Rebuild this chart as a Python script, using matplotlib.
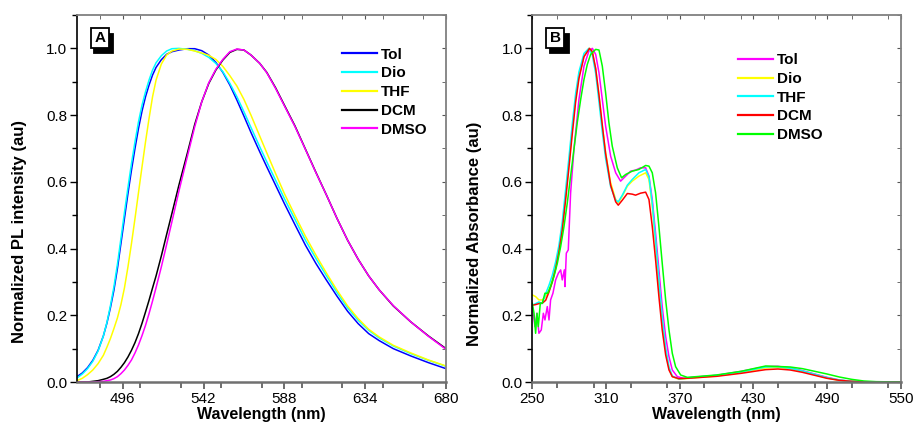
import matplotlib
matplotlib.use("Agg")
import matplotlib.pyplot as plt
from matplotlib.ticker import MultipleLocator, FixedLocator
from matplotlib import transforms
from matplotlib.patches import Rectangle

plt.rcParams['font.family'] = ['Liberation Sans', 'DejaVu Sans']

# ---------------- Panel A: PL spectra ----------------
wl_a = [470, 473, 476, 479, 482, 485, 487, 489, 491, 493,
        495, 497, 499, 501, 503, 505, 507, 509, 511, 513,
        515, 518, 521, 524, 528, 533, 537, 541, 545, 549,
        553, 557, 561, 565, 569, 574, 578, 583, 588, 594,
        600, 606, 612, 618, 624, 630, 636, 642, 650, 660,
        670, 680]
pl_tol = [0.016, 0.027, 0.043, 0.065, 0.095, 0.138, 0.176, 0.222, 0.275, 0.34,
          0.415, 0.49, 0.565, 0.635, 0.70, 0.76, 0.812, 0.855, 0.89, 0.92,
          0.943, 0.966, 0.982, 0.99, 0.995, 0.999, 0.999, 0.993, 0.98, 0.958,
          0.928, 0.89, 0.845, 0.797, 0.748, 0.69, 0.645, 0.59, 0.535, 0.472,
          0.41, 0.355, 0.305, 0.257, 0.212, 0.175, 0.145, 0.124, 0.1, 0.078,
          0.058, 0.04]
pl_dio = [0.012, 0.024, 0.04, 0.062, 0.093, 0.138, 0.178, 0.228, 0.285, 0.353,
          0.43, 0.508, 0.583, 0.655, 0.72, 0.78, 0.83, 0.87, 0.905, 0.935,
          0.957, 0.978, 0.992, 0.999, 1.0, 0.997, 0.993, 0.985, 0.973, 0.955,
          0.93, 0.895, 0.855, 0.81, 0.763, 0.705, 0.66, 0.605, 0.55, 0.488,
          0.425, 0.37, 0.318, 0.268, 0.222, 0.185, 0.155, 0.132, 0.108, 0.085,
          0.065, 0.047]
pl_thf = [0.004, 0.011, 0.022, 0.036, 0.055, 0.08, 0.104, 0.13, 0.16, 0.192,
          0.232, 0.282, 0.345, 0.415, 0.49, 0.568, 0.645, 0.72, 0.79, 0.855,
          0.905, 0.953, 0.98, 0.992, 0.998, 0.997, 0.992, 0.986, 0.979, 0.967,
          0.946, 0.918, 0.887, 0.847, 0.80, 0.737, 0.687, 0.625, 0.565, 0.50,
          0.437, 0.38, 0.326, 0.275, 0.228, 0.19, 0.158, 0.135, 0.11, 0.087,
          0.066, 0.048]
pl_dcm = [0.0, 0.0, 0.0, 0.002, 0.004, 0.008, 0.011, 0.016, 0.023, 0.032,
          0.044, 0.058, 0.075, 0.095, 0.118, 0.145, 0.176, 0.21, 0.245, 0.282,
          0.318, 0.378, 0.442, 0.505, 0.59, 0.69, 0.772, 0.84, 0.895, 0.935,
          0.965, 0.988, 0.997, 0.995, 0.98, 0.955, 0.928, 0.882, 0.83, 0.768,
          0.698, 0.628, 0.56, 0.49, 0.425, 0.368, 0.318, 0.276, 0.228, 0.18,
          0.138, 0.1]
pl_dmso = [0.0, 0.0, 0.0, 0.0, 0.001, 0.002, 0.004, 0.006, 0.01, 0.016,
           0.025, 0.036, 0.05, 0.066, 0.087, 0.111, 0.139, 0.17, 0.205, 0.243,
           0.283, 0.345, 0.412, 0.48, 0.572, 0.68, 0.765, 0.84, 0.897, 0.937,
           0.967, 0.99, 0.998, 0.995, 0.98, 0.955, 0.927, 0.88, 0.828, 0.766,
           0.697, 0.627, 0.56, 0.49, 0.425, 0.368, 0.318, 0.276, 0.229, 0.18,
           0.137, 0.098]

labels_a = ['Tol', 'Dio', 'THF', 'DCM', 'DMSO']
colors_a = ['#0000FF', '#00FFFF', '#FFFF00', '#000000', '#FF00FF']

# ---------------- Panel B: absorption spectra ----------------
wl_b_tol = [250, 252.2, 253.8, 255.4, 257.3, 259, 260.3, 262.2, 263.6, 264.9,
            266.8, 269, 271.2, 273.1, 274.4, 276.1, 276.6, 277.7, 279.3, 281.2,
            283.9, 288, 292.1, 296.1, 298.9, 301.6, 304.3, 307, 309.7, 313.8,
            317.9, 321.9, 326, 330.1, 334.1, 338.2, 342.3, 345, 347.7, 350.4,
            353.1, 355.8, 358.6, 361.3, 364, 368.1, 373.5, 380, 400, 420,
            440, 450, 460, 470, 480, 490, 500, 510, 520, 550]
ab_tol = [0.226, 0.166, 0.206, 0.146, 0.156, 0.206, 0.186, 0.226, 0.186, 0.246,
          0.266, 0.306, 0.326, 0.336, 0.306, 0.336, 0.286, 0.386, 0.396, 0.567,
          0.697, 0.847, 0.947, 0.992, 1.0, 0.982, 0.927, 0.847, 0.767, 0.677,
          0.627, 0.602, 0.617, 0.632, 0.635, 0.642, 0.642, 0.617, 0.547, 0.446,
          0.336, 0.226, 0.136, 0.076, 0.036, 0.016, 0.011, 0.014, 0.02, 0.032,
          0.046, 0.047, 0.042, 0.034, 0.024, 0.014, 0.006, 0.002, 0.0005, 0.0]

wl_b_mid = [250, 252.7, 255.4, 258.1, 260.9, 263.6, 266.3, 269, 271.7, 274.4,
            277.1, 279.9, 282.6, 285.3, 288, 292.1, 296.1, 298.9, 301.6, 304.3,
            307, 309.7, 313.8, 317.9, 320, 323.3, 327.4, 331.4, 336.8, 342.3,
            345, 347.7, 350.4, 353.1, 355.8, 358.6, 361.3, 364, 369.4, 380,
            400, 420, 440, 450, 460, 470, 480, 490, 500, 510, 520, 550]
ab_dio = [0.261, 0.256, 0.246, 0.246, 0.256, 0.276, 0.306, 0.346, 0.396, 0.466,
          0.557, 0.657, 0.757, 0.847, 0.917, 0.977, 1.0, 0.987, 0.937, 0.857,
          0.767, 0.687, 0.597, 0.547, 0.537, 0.557, 0.587, 0.602, 0.617, 0.627,
          0.607, 0.527, 0.416, 0.296, 0.186, 0.096, 0.041, 0.016, 0.008, 0.012,
          0.018, 0.028, 0.042, 0.044, 0.04, 0.032, 0.022, 0.012, 0.005, 0.002,
          0.0005, 0.0]
ab_thf = [0.23, 0.235, 0.24, 0.235, 0.265, 0.29, 0.32, 0.36, 0.41, 0.48,
          0.575, 0.675, 0.775, 0.865, 0.93, 0.985, 1.0, 0.98, 0.925, 0.84,
          0.75, 0.67, 0.585, 0.545, 0.54, 0.56, 0.59, 0.607, 0.627, 0.637,
          0.615, 0.535, 0.425, 0.305, 0.195, 0.102, 0.045, 0.018, 0.009, 0.013,
          0.02, 0.03, 0.045, 0.046, 0.041, 0.033, 0.023, 0.013, 0.006, 0.002,
          0.0005, 0.0]

wl_b_dcm = [250, 252.7, 255.4, 258.1, 260.9, 263.6, 266.3, 269, 271.7, 274.4,
            277.1, 279.9, 282.6, 285.3, 288, 292.1, 296.6, 298.9, 301.6, 304.3,
            307, 309.7, 313.8, 317.9, 320, 323.3, 327.4, 331.4, 334.1, 338.2,
            342.3, 345, 347.7, 350.4, 353.1, 355.8, 358.6, 361.3, 364, 369.4,
            380, 400, 420, 440, 450, 460, 470, 480, 490, 500, 510, 520, 550]
ab_dcm = [0.23, 0.232, 0.235, 0.236, 0.245, 0.27, 0.3, 0.34, 0.39, 0.455,
          0.545, 0.645, 0.745, 0.84, 0.91, 0.975, 1.0, 0.99, 0.94, 0.86,
          0.77, 0.685, 0.59, 0.54, 0.53, 0.545, 0.565, 0.563, 0.56, 0.566,
          0.569, 0.547, 0.466, 0.366, 0.256, 0.156, 0.081, 0.036, 0.016, 0.01,
          0.012, 0.017, 0.026, 0.037, 0.039, 0.036, 0.029, 0.02, 0.011, 0.005,
          0.002, 0.0005, 0.0]

wl_b_dmso = [250, 251.4, 252.7, 253.8, 254.9, 256.5, 258.1, 260.3, 262.5, 264.9,
             267.6, 270.4, 273.1, 275.8, 278.5, 281.2, 283.9, 286.6, 289.4, 292.1,
             294.8, 297.5, 301.6, 304.3, 307, 309.7, 312.4, 315.1, 319.2, 322.7,
             326, 331.4, 336.8, 342.3, 345, 347.7, 350.4, 353.1, 355.8, 358.6,
             361.3, 364, 366.7, 370.8, 376.2, 380, 400, 420, 440, 460,
             470, 480, 490, 500, 510, 520, 530, 550]
ab_dmso = [0.236, 0.206, 0.146, 0.206, 0.166, 0.236, 0.236, 0.266, 0.266, 0.286,
           0.316, 0.356, 0.406, 0.466, 0.537, 0.617, 0.697, 0.777, 0.847, 0.907,
           0.952, 0.982, 0.997, 0.995, 0.947, 0.867, 0.777, 0.707, 0.642, 0.612,
           0.622, 0.632, 0.637, 0.649, 0.647, 0.627, 0.567, 0.466, 0.356, 0.246,
           0.156, 0.086, 0.046, 0.021, 0.014, 0.015, 0.021, 0.032, 0.048, 0.045,
           0.04, 0.032, 0.024, 0.015, 0.008, 0.003, 0.001, 0.0]

labels_b = ['Tol', 'Dio', 'THF', 'DCM', 'DMSO']
colors_b = ['#FF00FF', '#FFFF00', '#00FFFF', '#FF0000', '#00FF00']

xticks_a = [496, 542, 588, 634, 680]
xticks_b = [250, 310, 370, 430, 490, 550]
yticks = [0.0, 0.2, 0.4, 0.6, 0.8, 1.0]
ytick_labels = ['0.0', '0.2', '0.4', '0.6', '0.8', '1.0']

# ---------------- Figure ----------------
fig = plt.figure(figsize=(9.15, 4.3), dpi=100)
axA = fig.add_axes([77 / 915, 48 / 430, 369 / 915, 367 / 430])
axB = fig.add_axes([532.3 / 915, 48 / 430, 368.4 / 915, 367 / 430])

series_a = [pl_tol, pl_dio, pl_thf, pl_dcm, pl_dmso]
for vals, lab, col in zip(series_a, labels_a, colors_a):
    axA.plot(wl_a, vals, color=col, lw=1.1, label=lab)

series_b = [(wl_b_tol, ab_tol), (wl_b_mid, ab_dio), (wl_b_mid, ab_thf),
            (wl_b_dcm, ab_dcm), (wl_b_dmso, ab_dmso)]
for (wl, vals), lab, col in zip(series_b, labels_b, colors_b):
    axB.plot(wl, vals, color=col, lw=1.1, label=lab)


def style(ax, xlim, xmaj, xmin, ylabel, letter, leg_anchor, ylab_y):
    ax.set_xlim(*xlim)
    ax.set_ylim(0, 1.1)
    ax.xaxis.set_major_locator(FixedLocator(xmaj))
    ax.xaxis.set_minor_locator(MultipleLocator(xmin))
    ax.yaxis.set_major_locator(FixedLocator(yticks))
    ax.yaxis.set_minor_locator(MultipleLocator(0.1))
    ax.set_yticklabels(ytick_labels)
    ax.tick_params(axis='both', which='both', direction='out', labelsize=11,
                   top=False, right=False, pad=2)
    ax.tick_params(axis='y', which='major', length=5, width=1, color='black')
    ax.tick_params(axis='y', which='minor', length=3.5, width=1, color='black')
    ax.tick_params(axis='x', which='major', length=5, width=1.2, color='#555555')
    ax.tick_params(axis='x', which='minor', length=4, width=1.2, color='#555555')
    ax.spines['left'].set_color('black')
    ax.spines['left'].set_linewidth(1.2)
    ax.spines['bottom'].set_color('#707070')
    ax.spines['bottom'].set_linewidth(1.8)
    for s in ('top', 'right'):
        ax.spines[s].set_color('#808080')
        ax.spines[s].set_linewidth(1.3)
    sx = ax.secondary_xaxis('top')
    sx.xaxis.set_major_locator(FixedLocator(xmaj))
    sx.xaxis.set_minor_locator(MultipleLocator(xmin))
    sx.tick_params(which='both', direction='in', length=3, color='#555555',
                   labeltop=False)
    sx.spines['top'].set_visible(False)
    sy = ax.secondary_yaxis('right')
    sy.yaxis.set_major_locator(FixedLocator(yticks))
    sy.yaxis.set_minor_locator(MultipleLocator(0.1))
    sy.tick_params(which='both', direction='in', length=3, color='#555555',
                   labelright=False)
    sy.spines['right'].set_visible(False)

    ax.set_xlabel('Wavelength (nm)', fontsize=11.5, fontweight='bold', labelpad=1)
    ax.set_ylabel(ylabel, fontsize=12, fontweight='bold')
    ax.yaxis.set_label_coords(-0.1365, ylab_y)

    # panel letter in a box with a black drop shadow
    bw, bh = 19 / 369, 19 / 367
    shadow = transforms.offset_copy(ax.transAxes, fig=fig, x=4, y=-5, units='dots')
    ax.add_patch(Rectangle((0.062 - bw / 2, 0.937 - bh / 2), bw, bh,
                           transform=shadow, fc='black', ec='black', lw=1.3,
                           zorder=9, clip_on=False))
    ax.text(0.062, 0.937, letter, transform=ax.transAxes, ha='center', va='center',
            fontsize=11, fontweight='bold', color='black', zorder=10,
            bbox=dict(boxstyle='square,pad=0.22', fc='white', ec='black', lw=1.3))

    leg = ax.legend(loc='upper left', bbox_to_anchor=leg_anchor, frameon=False,
                    borderpad=0, borderaxespad=0, handlelength=2.3,
                    handletextpad=0.25, labelspacing=0.31,
                    prop={'weight': 'bold', 'size': 11})
    for line in leg.get_lines():
        line.set_linewidth(1.6)


style(axA, (470, 680), xticks_a, 23, 'Normalized PL intensity (au)', 'A',
      (0.718, 0.911), 0.411)
style(axB, (250, 550), xticks_b, 30, 'Normalized Absorbance (au)', 'B',
      (0.558, 0.896), 0.403)

fig.savefig('out.png', dpi=100)
